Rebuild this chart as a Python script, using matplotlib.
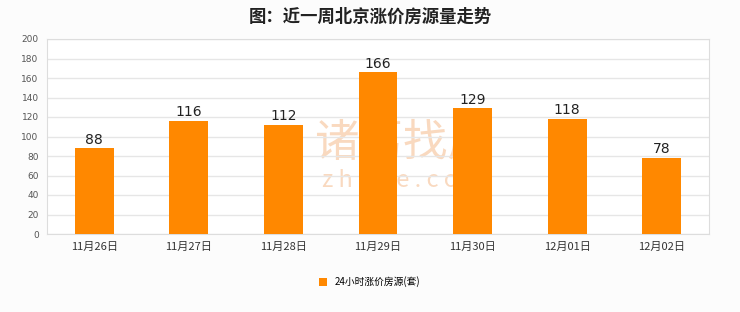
import matplotlib
matplotlib.use("Agg")
import matplotlib.pyplot as plt
import numpy as np

plt.rcParams['font.family'] = ['Noto Sans CJK SC', 'DejaVu Sans']

# data
dates = ['11月26日', '11月27日', '11月28日', '11月29日', '11月30日', '12月01日', '12月02日']
counts = [88, 116, 112, 166, 129, 118, 78]
series_name = '24小时涨价房源(套)'
title = '图：近一周北京涨价房源量走势'

BAR = '#ff8800'
GRID = '#e6e6e6'

fig = plt.figure(figsize=(7.4, 3.12), dpi=100, facecolor='#fcfcfc')
ax = fig.add_axes([47 / 740, 1 - 234 / 312, 662 / 740, 195 / 312])
ax.set_facecolor('white')

x = np.arange(len(dates))
bars = ax.bar(x, counts, width=0.41, color=BAR, label=series_name, zorder=3)
for b, v in zip(bars, counts):
    ax.text(b.get_x() + b.get_width() / 2, v + 1.5, str(v), ha='center', va='bottom',
            fontsize=10, color='#222222', family='DejaVu Sans', zorder=4)

ax.set_xlim(-0.5, len(dates) - 0.5)
ax.set_ylim(0, 200)
ax.set_yticks(range(0, 201, 20))
ax.set_xticks(x)
ax.set_xticklabels(dates, fontsize=8, color='#333333')
ax.tick_params(axis='y', labelsize=6.5, colors='#555555', length=0, pad=6)
ax.tick_params(axis='x', length=0, pad=6)
for t in ax.get_yticklabels():
    t.set_family('DejaVu Sans')
ax.grid(axis='y', color=GRID, lw=1, zorder=0)
for s in ax.spines.values():
    s.set_color('#dddddd')

# watermark, behind the bars
ax.text(0.538, 0.465, '诸葛找房', transform=ax.transAxes, fontsize=32, color='#f0a060',
        alpha=0.4, ha='center', va='center', zorder=1)
ax.text(0.538, 0.275, 'z h u g e . c o m', transform=ax.transAxes, fontsize=17,
        color='#f0a060', alpha=0.4, ha='center', va='center', zorder=1)

fig.text(0.5, 1 - 17 / 312, title, ha='center', va='center', fontsize=12.5,
         fontweight='bold', color='#222222')

leg = fig.legend(loc='center', bbox_to_anchor=(0.5, 1 - 282 / 312), frameon=False,
                 fontsize=7, handlelength=0.8, handleheight=0.8)

fig.savefig('out.png', dpi=100, facecolor=fig.get_facecolor())
